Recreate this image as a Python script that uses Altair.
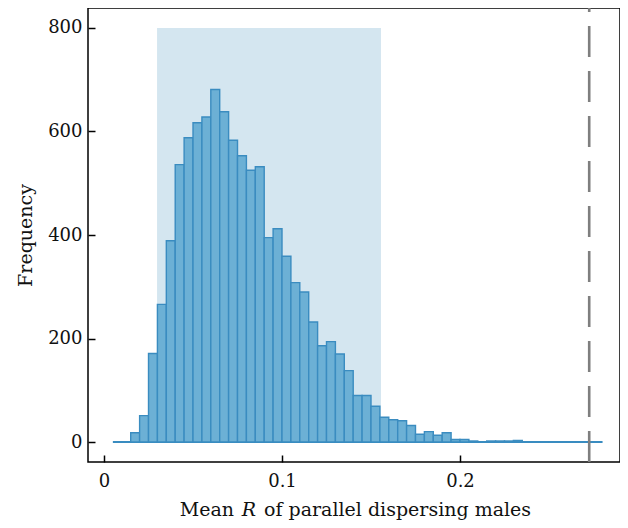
import altair as alt
import pandas as pd

# ---- data ----
bin_start = [round(0.005 + 0.005 * i, 3) for i in range(55)]  # 0.005 .. 0.275
counts = [0, 0, 18, 51, 171, 266, 389, 536, 588, 617,
          628, 681, 638, 583, 553, 525, 532, 395, 412, 359,
          308, 290, 232, 186, 194, 170, 138, 90, 90, 69,
          48, 43, 41, 32, 15, 20, 13, 18, 5, 5,
          2, 0, 2, 2, 2, 3, 0, 0, 0, 0,
          0, 0, 0, 0, 0]
bin_width = 0.005
ci_low, ci_high, ci_top = 0.0298, 0.1556, 800
observed = 0.2726
x_ticks = [0, 0.1, 0.2]
y_ticks = [0, 200, 400, 600, 800]
x_domain = [-0.009, 0.2899]
y_domain = [-38.6, 838.6]

hist = pd.DataFrame({"start": bin_start,
                     "end": [round(s + bin_width, 3) for s in bin_start],
                     "count": counts})
base = pd.DataFrame({"lo": [min(bin_start)], "hi": [max(bin_start) + bin_width], "y": [0]})
band = pd.DataFrame({"lo": [ci_low], "hi": [ci_high], "y0": [0], "y1": [ci_top]})
obs = pd.DataFrame({"x": [observed], "y0": [y_domain[0]], "y1": [y_domain[1]]})

W, H = 532, 454
FONT = "DejaVu Serif"

xs = alt.Scale(domain=x_domain, nice=False, zero=False)
ys = alt.Scale(domain=y_domain, nice=False, zero=False)

x_axis = alt.Axis(values=x_ticks, format="~g", title=None, offset=-7, tickSize=7,
                  labelPadding=10, domain=False, grid=False)
y_axis = alt.Axis(values=y_ticks, title="Frequency", offset=-7, tickSize=7,
                  labelPadding=6, domain=False, grid=False, titlePadding=12)

shade = alt.Chart(band).mark_rect(color="#d4e6f0").encode(
    x=alt.X("lo:Q", scale=xs, axis=x_axis),
    x2="hi:Q",
    y=alt.Y("y0:Q", scale=ys, axis=y_axis),
    y2="y1:Q",
)

baseline = alt.Chart(base).mark_rule(color="#3a8cc0", strokeWidth=2).encode(
    x=alt.X("lo:Q", scale=xs),
    x2="hi:Q",
    y=alt.Y("y:Q", scale=ys),
)

bars = alt.Chart(hist).mark_rect(fill="#6cb0d5", stroke="#3a8cc0", strokeWidth=1.4).encode(
    x=alt.X("start:Q", scale=xs),
    x2="end:Q",
    y=alt.Y("count:Q", scale=ys),
    y2=alt.datum(0),
)

rule = alt.Chart(obs).mark_rule(color="#7f7f7f", strokeWidth=2.6, strokeDash=[31, 14]).encode(
    x=alt.X("x:Q", scale=xs),
    y=alt.Y("y0:Q", scale=ys),
    y2="y1:Q",
)

title_y = H + 48
t1 = alt.Chart(pd.DataFrame({"t": ["Mean"]})).mark_text(
    font=FONT, fontSize=19, align="right", baseline="middle", color="#111"
).encode(text="t:N", x=alt.value(146), y=alt.value(title_y))
t2 = alt.Chart(pd.DataFrame({"t": ["R"]})).mark_text(
    font=FONT, fontSize=19, fontStyle="italic", align="center", baseline="middle", color="#111"
).encode(text="t:N", x=alt.value(161), y=alt.value(title_y))
t3 = alt.Chart(pd.DataFrame({"t": ["of parallel dispersing males"]})).mark_text(
    font=FONT, fontSize=19, align="left", baseline="middle", color="#111"
).encode(text="t:N", x=alt.value(176), y=alt.value(title_y))

chart = alt.layer(shade, baseline, bars, rule, t1, t2, t3).properties(
    width=W, height=H,
    autosize=alt.AutoSizeParams(type="none"),
    padding={"left": 80, "top": 0, "right": 0, "bottom": 58},
).configure_view(
    stroke="black", strokeWidth=1.5
).configure_axis(
    labelFont=FONT, labelFontSize=18, labelColor="#111",
    titleFont=FONT, titleFontSize=19, titleFontWeight="normal", titleColor="#111",
    tickColor="black", tickWidth=1.5,
)

chart.save("out.html", embed_options={"renderer": "svg", "actions": False})
